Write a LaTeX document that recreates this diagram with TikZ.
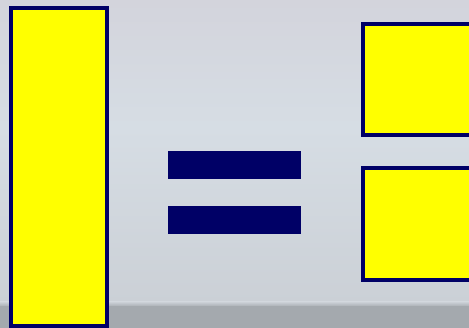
\documentclass[tikz,border=0pt]{standalone}
\usepackage{tikz}
\definecolor{boxnavy}{RGB}{0, 0, 102}
\definecolor{boxyellow}{RGB}{255, 255, 0}
\definecolor{bgtop}{RGB}{211, 212, 220}
\definecolor{bgmid}{RGB}{214, 221, 228}
\definecolor{bgbot}{RGB}{203, 208, 214}
\definecolor{floorgray}{RGB}{164, 169, 174}

\tikzset{
  block/.style={draw=boxnavy, fill=boxyellow, line width=4pt},
  eqbar/.style={fill=boxnavy}
}

\begin{document}
\begin{tikzpicture}[x=1pt, y=1pt]
  \useasboundingbox (0,0) rectangle (469,328);
  \clip (0,0) rectangle (469,328);
  % background
  \shade[top color=bgtop, bottom color=bgmid] (0,200) rectangle (469,328);
  \shade[top color=bgmid, bottom color=bgbot] (0,25) rectangle (469,200.5);
  \shade[top color=bgbot, bottom color=floorgray] (0,21) rectangle (469,26);
  \fill[floorgray] (0,0) rectangle (469,21.5);
  % left block
  \draw[block] (11,2) rectangle (107,320);
  % equals sign
  \fill[eqbar] (168,149) rectangle (301,177);
  \fill[eqbar] (168,94) rectangle (301,122);
  % right blocks
  \draw[block] (363,193) rectangle (480,304);
  \draw[block] (363,48) rectangle (480,160);
\end{tikzpicture}
\end{document}
